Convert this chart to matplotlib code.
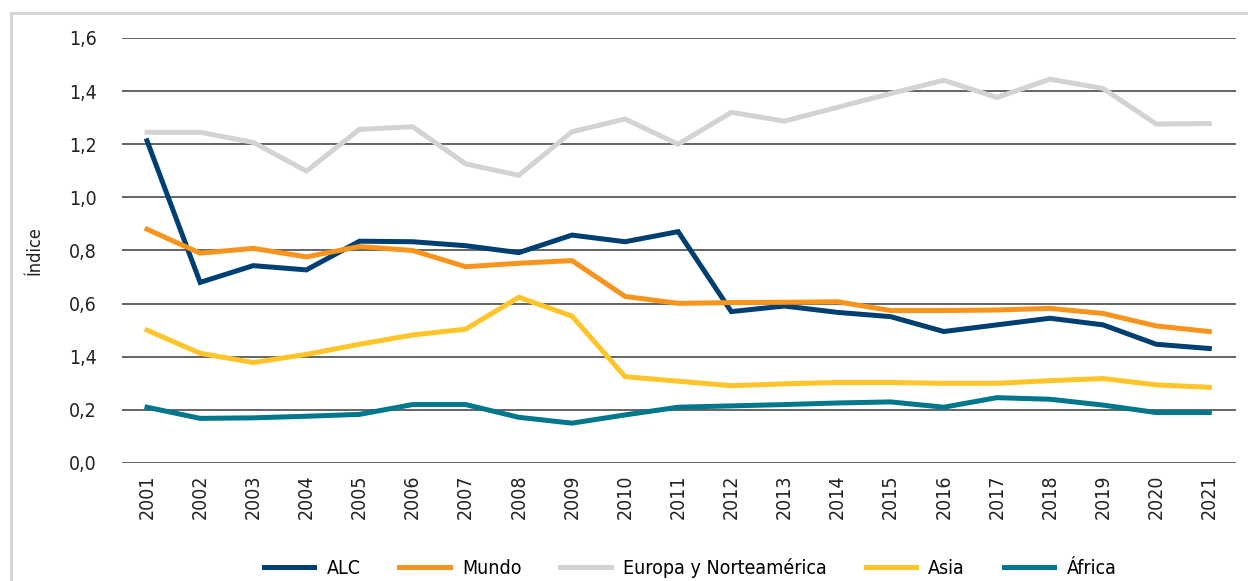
import matplotlib
matplotlib.use("Agg")
import matplotlib.pyplot as plt
from matplotlib.patches import Rectangle

# Data
years = list(range(2001, 2022))
alc = [1.213, 0.680, 0.743, 0.727, 0.835, 0.833, 0.818, 0.792, 0.858, 0.833,
       0.871, 0.570, 0.591, 0.567, 0.551, 0.495, 0.520, 0.545, 0.520, 0.447, 0.431]
mundo = [0.880, 0.790, 0.808, 0.776, 0.815, 0.800, 0.739, 0.752, 0.762, 0.627,
         0.601, 0.604, 0.605, 0.607, 0.574, 0.574, 0.576, 0.582, 0.563, 0.516, 0.495]
europa = [1.245, 1.245, 1.207, 1.099, 1.256, 1.266, 1.126, 1.083, 1.247, 1.295,
          1.200, 1.320, 1.287, 1.339, 1.391, 1.441, 1.376, 1.445, 1.410, 1.276, 1.278]
asia = [0.500, 0.413, 0.378, 0.409, 0.447, 0.482, 0.504, 0.624, 0.553, 0.325,
        0.308, 0.291, 0.298, 0.303, 0.303, 0.300, 0.300, 0.310, 0.318, 0.294, 0.285]
africa = [0.210, 0.168, 0.170, 0.176, 0.183, 0.220, 0.220, 0.172, 0.150, 0.181,
          0.210, 0.215, 0.220, 0.226, 0.230, 0.210, 0.246, 0.240, 0.218, 0.190, 0.190]

series_names = ["ALC", "Mundo", "Europa y Norteamérica", "Asia", "África"]
series_colors = ["#003f72", "#f7941d", "#d1d3d4", "#fdc52a", "#00778b"]

y_ticks = [0.0, 0.2, 0.4, 0.6, 0.8, 1.0, 1.2, 1.4, 1.6]
# the reference labels the 0.4 line as "1,4"
y_tick_labels = ["0,0", "0,2", "1,4", "0,6", "0,8", "1,0", "1,2", "1,4", "1,6"]

plt.rcParams['font.family'] = ['DejaVu Sans']
plt.rcParams['font.stretch'] = 'condensed'

fig = plt.figure(figsize=(12.48, 5.81), dpi=100)
ax = fig.add_axes([0.0978, 0.2031, 0.8925, 0.7315])

# light grey frame around the chart (open at right and bottom)
fig.patches.append(Rectangle((11 / 1248, -0.5), 2, 0.5 + 1 - 13 / 581,
                             transform=fig.transFigure, fill=False,
                             edgecolor='#d4d7da', linewidth=2.2))

for yv in y_ticks:
    ax.axhline(yv, color='#3a3a3a', linewidth=1.1, zorder=1)

for vals, name, col in zip([alc, mundo, europa, asia, africa], series_names, series_colors):
    ax.plot(years, vals, color=col, linewidth=3.6, label=name, zorder=3,
            solid_joinstyle='miter')

ax.set_xlim(2000.53, 2021.5)
ax.set_ylim(0, 1.6)
ax.set_yticks(y_ticks)
ax.set_yticklabels(y_tick_labels, fontsize=14, color='#222222')
ax.set_xticks(years)
ax.set_xticklabels([str(y) for y in years], rotation=90, fontsize=14, color='#222222')
ax.tick_params(axis='both', length=0)
ax.tick_params(axis='y', pad=18)
ax.tick_params(axis='x', pad=8)
for s in ax.spines.values():
    s.set_visible(False)

ax.set_ylabel("Índice", fontsize=13, color='#222222', labelpad=18)

ax.legend(loc='center', bbox_to_anchor=(0.51, -0.247), ncol=5, frameon=False,
          fontsize=14, handlelength=2.6, columnspacing=2.0, handletextpad=0.62)

fig.savefig("out.png", dpi=100, facecolor='white')
